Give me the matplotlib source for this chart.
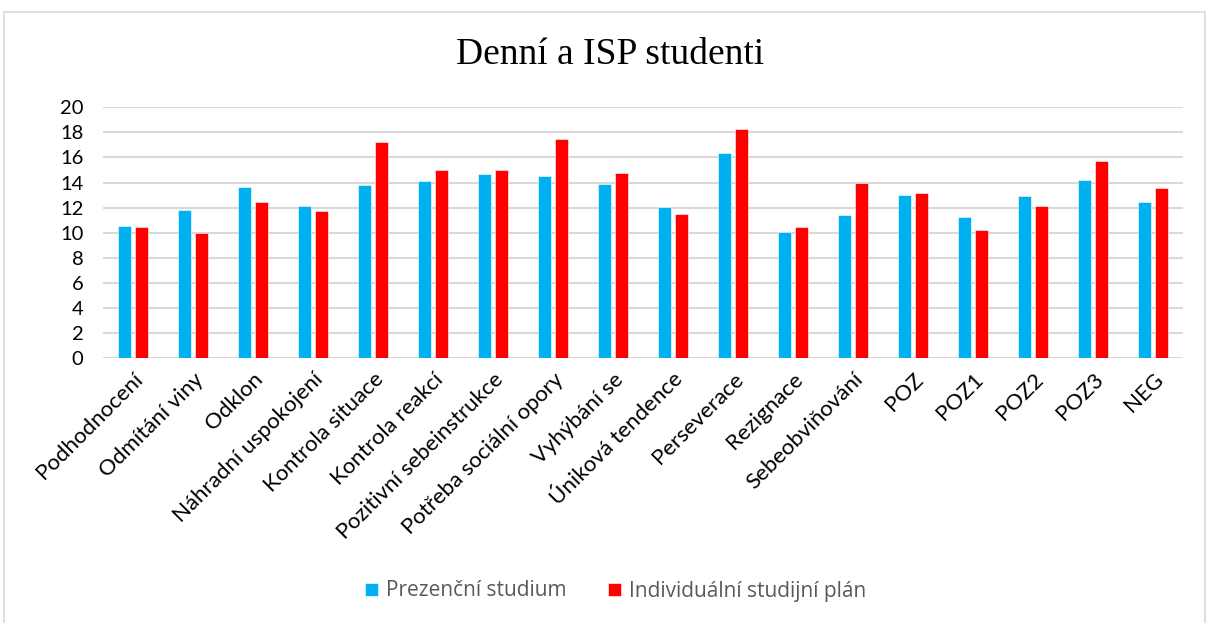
import matplotlib
matplotlib.use("Agg")
import matplotlib.pyplot as plt
import numpy as np
from matplotlib.lines import Line2D

categories = ["Podhodnocení", "Odmítání viny", "Odklon", "Náhradní uspokojení",
              "Kontrola situace", "Kontrola reakcí", "Pozitivní sebeinstrukce",
              "Potřeba sociální opory", "Vyhýbání se", "Úniková tendence",
              "Perseverace", "Rezignace", "Sebeobviňování", "POZ", "POZ1",
              "POZ2", "POZ3", "NEG"]
prezencni = [10.57, 11.77, 13.63, 12.14, 13.82, 14.09, 14.65, 14.49, 13.85,
             12.01, 16.32, 10.07, 11.40, 13.00, 11.21, 12.92, 14.19, 12.46]
isp = [10.47, 9.99, 12.46, 11.72, 17.23, 14.97, 14.97, 17.50, 14.73,
       11.50, 18.24, 10.47, 13.98, 13.13, 10.25, 12.12, 15.74, 13.53]
series_names = ["Prezenční studium", "Individuální studijní plán"]
yticks = list(range(0, 21, 2))

W, H = 1207, 623
fig = plt.figure(figsize=(W / 100, H / 100), dpi=100)
# chart border (left, top, right; bottom lies outside the image)
bx0, bx1, by = 3.5 / W, (W - 2.5) / W, 1 - 11.5 / H
fig.lines.append(Line2D([bx0, bx0, bx1, bx1], [0, by, by, 0],
                        transform=fig.transFigure, color="#D9D9D9",
                        linewidth=1.2))

ax = fig.add_axes([103 / W, 1 - 358 / H, 1080 / W, (358 - 107.3) / H])
x = np.arange(len(categories))
bw = 0.222
ax.bar(x - 0.145, prezencni, bw, color="#00B0F0", edgecolor="white",
       linewidth=0.4, label=series_names[0], zorder=3)
ax.bar(x + 0.145, isp, bw, color="#FF0000", edgecolor="white",
       linewidth=0.4, label=series_names[1], zorder=3)

ax.set_xlim(-0.5, len(categories) - 0.5)
ax.set_ylim(0, 20)
ax.set_yticks(yticks)
ax.set_yticklabels([str(t) for t in yticks], fontsize=14.5, family="Lato")
ax.yaxis.grid(True, color="#D9D9D9", linewidth=1.5, zorder=0)
ax.set_axisbelow(True)
for s in ax.spines.values():
    s.set_visible(False)
ax.tick_params(axis="both", length=0)
ax.tick_params(axis="y", pad=14)
ax.set_xticks(x)
ax.set_xticklabels(categories, rotation=45, ha="right", va="top",
                   rotation_mode="anchor", fontsize=16, family="Lato")
ax.tick_params(axis="x", pad=8)

fig.text(610 / W, 1 - 55 / H, "Denní a ISP studenti", ha="center", va="center",
         fontsize=27, family="Liberation Serif")

fig.legend(loc="center", bbox_to_anchor=(616 / W, 1 - 591 / H), ncol=2,
           frameon=False, prop={"family": "Open Sans", "size": 15},
           labelcolor="#595959", handlelength=0.6, handleheight=0.6,
           handletextpad=0.4, columnspacing=2.0)

fig.savefig("out.png", dpi=100)
